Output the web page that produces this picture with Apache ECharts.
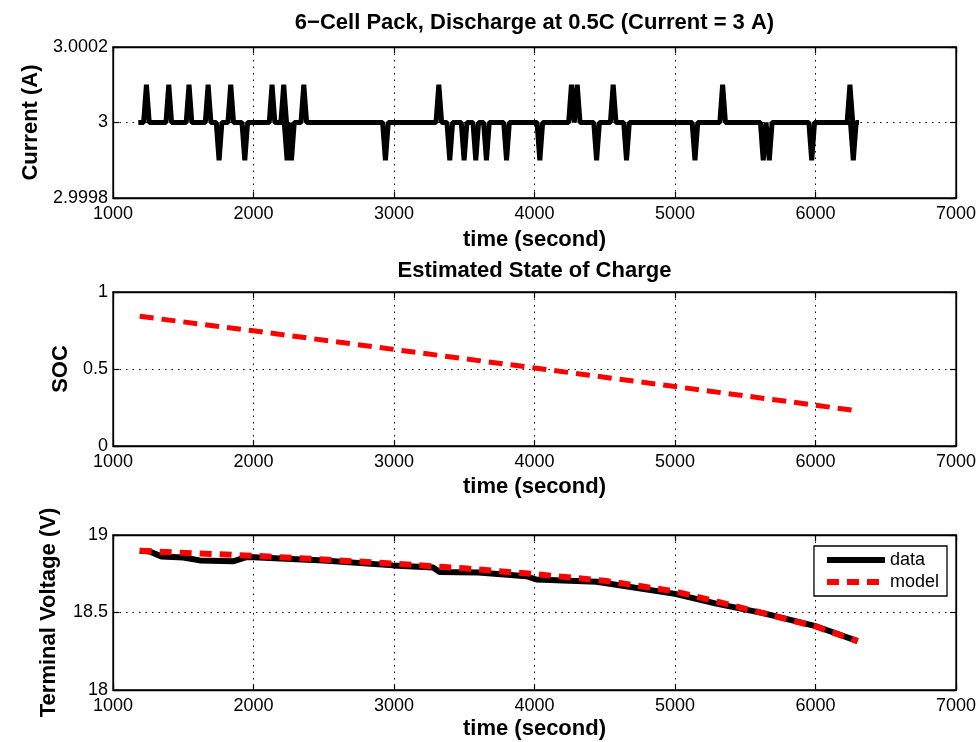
<!DOCTYPE html>
<html>
<head>
<meta charset="utf-8">
<script src="https://cdn.jsdelivr.net/npm/echarts@6/dist/echarts.min.js"></script>
<style>
  html, body { margin: 0; padding: 0; background: #fff; }
  #chart { width: 980px; height: 742px; }
</style>
</head>
<body>
<div id="chart"></div>
<script>
// time ticks shared by all three panels
const timeTicks = [1000, 2000, 3000, 4000, 5000, 6000, 7000]

// current: flat at 3 A with short spikes (time, peak value)
const currentStart = [1180, 3]
const currentEnd = [6310, 3]
const currentSpikeTime = [1238, 1397, 1541, 1677, 1755, 1838, 1938, 2132, 2215, 2239, 2270, 2358,
  2939, 3319, 3397, 3499, 3582, 3658, 3801, 4038, 4263, 4304, 4442, 4560, 4655, 5142, 5339,
  5628, 5671, 5973, 6245, 6269]
const currentSpikeValue = [3.0001, 3.0001, 3.0001, 3.0001, 2.9999, 3.0001, 2.9999, 3.0001, 3.0001, 2.9999, 2.9999, 3.0001,
  2.9999, 3.0001, 2.9999, 2.9999, 2.9999, 2.9999, 2.9999, 2.9999, 3.0001, 3.0001, 2.9999, 3.0001, 2.9999, 2.9999, 3.0001,
  2.9999, 2.9999, 2.9999, 3.0001, 2.9999]
const spikeHalfWidth = 20

// estimated state of charge
const socTime = [1190, 2000, 3000, 4000, 5000, 6000, 6300]
const socValue = [0.842, 0.748, 0.627, 0.507, 0.386, 0.265, 0.228]

// terminal voltage, measured
const voltTime = [1190, 1261, 1344, 1500, 1617, 1854, 1949, 2000, 2500, 2993, 3278, 3325, 3600, 3942, 4013,
  4442, 5000, 5294, 5626, 6008, 6300]
const voltData = [18.898, 18.893, 18.862, 18.855, 18.836, 18.83, 18.857, 18.857, 18.835, 18.804, 18.79, 18.762, 18.758, 18.734, 18.713,
  18.698, 18.62, 18.557, 18.496, 18.41, 18.315]

// terminal voltage, model
const modelTime = [1190, 1500, 2000, 2500, 3000, 3500, 4000, 4500, 5000, 5300, 5626, 6000, 6300]
const modelValue = [18.898, 18.885, 18.866, 18.842, 18.815, 18.785, 18.748, 18.705, 18.636, 18.57, 18.496, 18.41, 18.315]

const FONT = '"Liberation Sans", Arial, sans-serif'

const currentPoints = [currentStart]
currentSpikeTime.forEach((t, i) => {
  currentPoints.push([t - spikeHalfWidth, 3], [t, currentSpikeValue[i]], [t + spikeHalfWidth, 3])
})
currentPoints.push(currentEnd)

const zip = (xs, ys) => xs.map((x, i) => [x, ys[i]])

const grids = [
  { left: 113, top: 47, width: 843, height: 151 },
  { left: 113, top: 292, width: 843, height: 154 },
  { left: 113, top: 535, width: 843, height: 155 },
]
const yRanges = [
  { min: 2.9998, max: 3.0002, interval: 0.0002, name: 'Current (A)', gap: 71 },
  { min: 0, max: 1, interval: 0.5, name: 'SOC', gap: 40 },
  { min: 18, max: 19, interval: 0.5, name: 'Terminal Voltage (V)', gap: 53 },
]
const topTitles = ['6\u2212Cell Pack, Discharge at 0.5C (Current = 3 A)', 'Estimated State of Charge', '']
const topGaps = [13, 10, 10]
const xNameGaps = [31, 30, 28]

const black = '#000'
const dotted = { color: black, width: 1, type: [1.5, 5] }
const axisLine = { show: true, onZero: false, lineStyle: { color: black, width: 1.3 } }
const tick = { show: true, inside: true, length: 6, lineStyle: { color: black, width: 1.2 } }
const nameStyle = { fontSize: 22, fontWeight: 'bold', color: black, fontFamily: FONT }
const labelStyle = { fontSize: 18, color: black, fontFamily: FONT }

const xAxis = []
const yAxis = []
grids.forEach((g, i) => {
  xAxis.push({
    type: 'value', gridIndex: i, position: 'bottom',
    min: timeTicks[0], max: timeTicks[timeTicks.length - 1], interval: 1000,
    name: 'time (second)', nameLocation: 'middle', nameGap: xNameGaps[i], nameTextStyle: nameStyle,
    axisLine, axisTick: tick,
    axisLabel: Object.assign({ margin: 7, formatter: v => String(v) }, labelStyle),
    splitLine: { show: true, lineStyle: dotted },
  })
  xAxis.push({
    type: 'value', gridIndex: i, position: 'top',
    min: timeTicks[0], max: timeTicks[timeTicks.length - 1], interval: 1000,
    name: topTitles[i], nameLocation: 'middle', nameGap: topGaps[i], nameTextStyle: nameStyle,
    axisLine, axisTick: tick, axisLabel: { show: false }, splitLine: { show: false },
  })
  const r = yRanges[i]
  yAxis.push({
    type: 'value', gridIndex: i, position: 'left',
    min: r.min, max: r.max, interval: r.interval,
    name: r.name, nameLocation: 'middle', nameGap: r.gap, nameRotate: 90, nameTextStyle: nameStyle,
    axisLine, axisTick: tick,
    axisLabel: Object.assign({ margin: 5, formatter: v => String(parseFloat(v.toFixed(4))) }, labelStyle),
    splitLine: { show: true, lineStyle: dotted },
  })
  yAxis.push({
    type: 'value', gridIndex: i, position: 'right',
    min: r.min, max: r.max, interval: r.interval,
    axisLine, axisTick: tick, axisLabel: { show: false }, splitLine: { show: false },
  })
})

const chart = echarts.init(document.getElementById('chart'))
chart.setOption({
  animation: false,
  backgroundColor: '#fff',
  grid: grids.map(g => Object.assign({ show: true, borderColor: black, borderWidth: 1.3 }, g)),
  xAxis,
  yAxis,
  legend: {
    data: ['data', 'model'],
    orient: 'vertical',
    right: 33,
    top: 546,
    padding: [5, 8, 5, 10],
    itemGap: 4,
    itemWidth: 58,
    itemHeight: 20,
    backgroundColor: '#fff',
    borderColor: black,
    borderWidth: 1.3,
    itemStyle: { opacity: 0 },
    lineStyle: { width: 6 },
    textStyle: { fontSize: 18, color: black, fontFamily: FONT },
  },
  series: [
    {
      type: 'line', xAxisIndex: 0, yAxisIndex: 0, data: currentPoints,
      symbol: 'none', lineStyle: { color: black, width: 5 }, itemStyle: { color: black },
    },
    {
      type: 'line', xAxisIndex: 2, yAxisIndex: 2, data: zip(socTime, socValue),
      symbol: 'none', lineStyle: { color: '#ff0000', width: 5, type: [14, 8] },
    },
    {
      name: 'data', type: 'line', xAxisIndex: 4, yAxisIndex: 4, data: zip(voltTime, voltData),
      symbol: 'none', lineStyle: { color: black, width: 6 }, itemStyle: { color: black },
    },
    {
      name: 'model', type: 'line', xAxisIndex: 4, yAxisIndex: 4, data: zip(modelTime, modelValue),
      symbol: 'none', lineStyle: { color: '#ff0000', width: 6, type: [12, 8] }, itemStyle: { color: '#ff0000' },
    },
  ],
})
</script>
</body>
</html>
